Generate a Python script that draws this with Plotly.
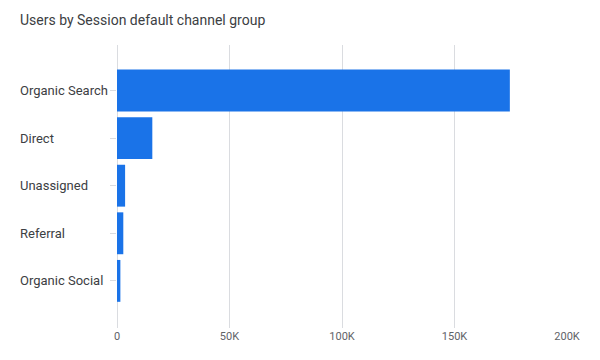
import plotly.graph_objects as go

categories = ["Organic Search", "Direct", "Unassigned", "Referral", "Organic Social"]
users = [174600, 15700, 3600, 2800, 1500]
x_tick_values = [0, 50000, 100000, 150000, 200000]
x_tick_labels = ["0", "50K", "100K", "150K", "200K"]

W, H = 600, 360
L, R, T, B = 117, 33, 45, 32
plot_w = W - L - R

fig = go.Figure(
    go.Bar(
        y=categories,
        x=users,
        orientation="h",
        marker=dict(color="#1a73e8", line=dict(width=0)),
        hoverinfo="x+y",
    )
)

annotations = [
    dict(
        text=c,
        x=(18 - L) / plot_w,
        xref="paper",
        xanchor="left",
        y=c,
        yref="y",
        yanchor="middle",
        showarrow=False,
        font=dict(family="Roboto", size=13, color="#3c4043"),
    )
    for c in categories
]

fig.update_layout(
    width=W,
    height=H,
    margin=dict(l=L, r=R, t=T, b=B, autoexpand=False),
    paper_bgcolor="white",
    plot_bgcolor="white",
    bargap=0.12,
    showlegend=False,
    title=dict(
        text="Users by Session default channel group",
        x=20 / W,
        xanchor="left",
        y=1 - 20 / H,
        yanchor="middle",
        font=dict(family="Roboto", size=14, color="#3c4043"),
    ),
    font=dict(family="Roboto"),
    annotations=annotations,
)

fig.update_xaxes(
    range=[0, 200000],
    tickvals=x_tick_values,
    ticktext=x_tick_labels,
    showgrid=True,
    gridcolor="#dadce0",
    gridwidth=1,
    zeroline=True,
    zerolinecolor="#dadce0",
    zerolinewidth=1,
    showline=False,
    ticks="",
    tickfont=dict(family="Roboto", size=11, color="#5f6368"),
    automargin=False,
    fixedrange=True,
)

fig.update_yaxes(
    categoryorder="array",
    categoryarray=categories,
    tickvals=categories,
    ticktext=["" for _ in categories],
    range=[4.99, -0.956],
    showgrid=False,
    zeroline=False,
    showline=False,
    ticks="outside",
    ticklen=6,
    tickcolor="#dadce0",
    automargin=False,
    fixedrange=True,
)

fig.write_html(
    "out.html",
    config={"displayModeBar": False},
    post_script="document.body.style.margin='0';",
)
